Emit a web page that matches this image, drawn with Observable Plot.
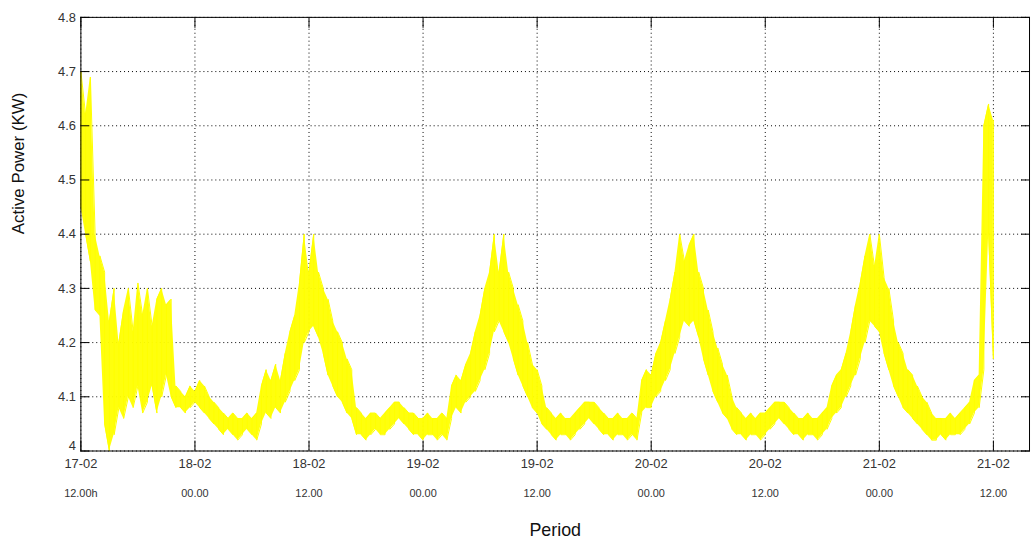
<!DOCTYPE html>
<html><head><meta charset="utf-8">
<script src="https://cdn.jsdelivr.net/npm/d3@7"></script>
<script src="https://cdn.jsdelivr.net/npm/@observablehq/plot@0.6"></script>
<style>
html,body{margin:0;padding:0;background:#fff;}
#wrap{width:1032px;height:554px;overflow:hidden;position:relative;background:#fff;}
</style></head><body><div id="wrap"></div>
<script>
// hours since 17-02 12:00, half-hour readings
const hours = [
  0,0.5,1,1.5,2,2.5,3,3.5,4,4.5,5,5.5,6,6.5,7,7.5,8,8.5,9,9.5,
  10,10.5,11,11.5,12,12.5,13,13.5,14,14.5,15,15.5,16,16.5,17,17.5,18,18.5,19,19.5,
  20,20.5,21,21.5,22,22.5,23,23.5,24,24.5,25,25.5,26,26.5,27,27.5,28,28.5,29,29.5,
  30,30.5,31,31.5,32,32.5,33,33.5,34,34.5,35,35.5,36,36.5,37,37.5,38,38.5,39,39.5,
  40,40.5,41,41.5,42,42.5,43,43.5,44,44.5,45,45.5,46,46.5,47,47.5,48,48.5,49,49.5,
  50,50.5,51,51.5,52,52.5,53,53.5,54,54.5,55,55.5,56,56.5,57,57.5,58,58.5,59,59.5,
  60,60.5,61,61.5,62,62.5,63,63.5,64,64.5,65,65.5,66,66.5,67,67.5,68,68.5,69,69.5,
  70,70.5,71,71.5,72,72.5,73,73.5,74,74.5,75,75.5,76,76.5,77,77.5,78,78.5,79,79.5,
  80,80.5,81,81.5,82,82.5,83,83.5,84,84.5,85,85.5,86,86.5,87,87.5,88,88.5,89,89.5,
  90,90.5,91,91.5,92,92.5,93,93.5,94,94.5,95,95.5,96];
// lower envelope of the active power trace (kW)
const lowValues = [
  4.45,4.40,4.35,4.26,4.25,4.05,4.00,4.03,4.08,4.06,4.10,4.08,4.12,4.07,4.09,4.12,4.07,4.10,4.14,4.10,
  4.08,4.08,4.07,4.08,4.09,4.08,4.07,4.06,4.05,4.04,4.03,4.04,4.03,4.02,4.03,4.04,4.03,4.02,4.05,4.07,
  4.06,4.08,4.07,4.09,4.11,4.13,4.15,4.20,4.22,4.23,4.21,4.18,4.14,4.12,4.10,4.09,4.07,4.06,4.03,4.03,
  4.02,4.03,4.04,4.03,4.03,4.04,4.05,4.06,4.05,4.04,4.03,4.03,4.02,4.03,4.03,4.02,4.03,4.02,4.06,4.08,
  4.07,4.09,4.10,4.11,4.13,4.15,4.18,4.22,4.24,4.22,4.20,4.17,4.14,4.12,4.10,4.08,4.07,4.05,4.04,4.03,
  4.02,4.03,4.03,4.02,4.03,4.04,4.05,4.06,4.05,4.04,4.03,4.03,4.02,4.03,4.03,4.02,4.03,4.02,4.07,4.08,
  4.08,4.10,4.11,4.13,4.15,4.18,4.21,4.24,4.23,4.24,4.21,4.17,4.14,4.11,4.09,4.07,4.06,4.04,4.03,4.03,
  4.02,4.03,4.03,4.02,4.03,4.04,4.05,4.06,4.05,4.04,4.03,4.03,4.02,4.03,4.03,4.02,4.03,4.04,4.06,4.07,
  4.08,4.10,4.12,4.14,4.17,4.20,4.24,4.23,4.22,4.18,4.15,4.12,4.10,4.08,4.07,4.06,4.05,4.04,4.03,4.02,
  4.02,4.03,4.02,4.03,4.03,4.03,4.04,4.05,4.07,4.08,4.15,4.40,4.17];
// upper envelope of the active power trace (kW)
const highValues = [
  4.70,4.62,4.69,4.40,4.36,4.33,4.24,4.30,4.20,4.26,4.30,4.22,4.31,4.25,4.30,4.23,4.28,4.30,4.27,4.28,
  4.12,4.11,4.10,4.12,4.11,4.13,4.12,4.10,4.09,4.08,4.07,4.06,4.07,4.06,4.06,4.07,4.06,4.07,4.12,4.15,
  4.13,4.16,4.13,4.18,4.22,4.25,4.31,4.40,4.33,4.40,4.33,4.30,4.28,4.24,4.22,4.20,4.17,4.15,4.08,4.07,
  4.06,4.07,4.07,4.06,4.07,4.08,4.09,4.09,4.08,4.07,4.07,4.06,4.06,4.07,4.06,4.06,4.07,4.06,4.12,4.14,
  4.13,4.16,4.18,4.22,4.25,4.30,4.33,4.40,4.33,4.40,4.33,4.30,4.27,4.24,4.20,4.16,4.15,4.12,4.08,4.07,
  4.06,4.07,4.06,4.06,4.07,4.08,4.09,4.09,4.09,4.08,4.07,4.06,4.06,4.07,4.06,4.06,4.07,4.06,4.13,4.15,
  4.14,4.18,4.20,4.24,4.28,4.33,4.40,4.35,4.38,4.40,4.33,4.30,4.26,4.22,4.19,4.16,4.14,4.10,4.08,4.07,
  4.06,4.07,4.06,4.07,4.07,4.08,4.09,4.09,4.09,4.08,4.07,4.06,4.06,4.07,4.06,4.06,4.07,4.08,4.12,4.14,
  4.15,4.18,4.22,4.27,4.31,4.36,4.40,4.34,4.40,4.32,4.30,4.24,4.20,4.18,4.15,4.14,4.12,4.10,4.09,4.07,
  4.06,4.06,4.06,4.07,4.06,4.07,4.08,4.09,4.13,4.14,4.60,4.64,4.61];

const tickHours = [0,12,24,36,48,60,72,84,96];
const dayLabels = ["17-02","18-02","18-02","19-02","19-02","20-02","20-02","21-02","21-02"];
const timeLabels = ["12.00h","00.00","12.00","00.00","12.00","00.00","12.00","00.00","12.00"];
const yTicks = [4,4.1,4.2,4.3,4.4,4.5,4.6,4.7,4.8];
const yTickLabels = ["4","4.1","4.2","4.3","4.4","4.5","4.6","4.7","4.8"];
const xDomain = [0, 99.8];
const yDomain = [4, 4.8];
const xTitle = "Period";
const yTitle = "Active Power (KW)";

const band = hours.map((t, i) => ({t, lo: lowValues[i], hi: highValues[i]}));
const zig = [];
hours.forEach((t, i) => {
  if (i % 2 === 0) { zig.push({t, v: lowValues[i]}); zig.push({t, v: highValues[i]}); }
  else { zig.push({t, v: highValues[i]}); zig.push({t, v: lowValues[i]}); }
});

const YEL = "#ffff00";
const dotted = {stroke: "#000", strokeOpacity: 1, strokeWidth: 1, strokeDasharray: "1,3"};
const yLab = d => yTickLabels[yTicks.indexOf(d)];

const chart = Plot.plot({
  width: 1040, height: 554,
  marginTop: 17, marginBottom: 100, marginLeft: 81, marginRight: 3,
  style: {fontFamily: "'Liberation Sans', Arial, sans-serif", color: "#222", background: "white", overflow: "visible"},
  x: {type: "linear", domain: xDomain},
  y: {type: "linear", domain: yDomain},
  marks: [
    Plot.gridX(tickHours, dotted),
    Plot.gridY(yTicks, dotted),
    Plot.areaY(band, {x: "t", y1: "lo", y2: "hi", fill: YEL, fillOpacity: 0.95}),
    Plot.line(zig, {x: "t", y: "v", stroke: YEL, strokeWidth: 1}),
    Plot.frame({stroke: "#000", strokeWidth: 1}),
    Plot.axisY(yTicks, {anchor: "left", tickSize: -9, fill: "none", stroke: "#000", label: null}),
    Plot.axisY(yTicks, {anchor: "right", tickSize: -9, fill: "none", stroke: "#000", label: null}),
    Plot.axisX(tickHours, {anchor: "bottom", tickSize: -10, fill: "none", stroke: "#000", label: null}),
    Plot.axisX(tickHours, {anchor: "top", tickSize: -10, fill: "none", stroke: "#000", label: null}),
    Plot.axisY(yTicks.filter(d => d > yDomain[0]), {anchor: "left", tickSize: 0, tickPadding: 5, fontSize: 13, fill: "#333",
      tickFormat: yLab, label: null}),
    Plot.axisY([yDomain[0]], {anchor: "left", tickSize: 0, tickPadding: 5, fontSize: 13, fill: "#333",
      tickFormat: yLab, dy: -5, label: null}),
    Plot.axisX(tickHours, {anchor: "bottom", tickSize: 0, tickPadding: 8, fontSize: 13, fill: "#333",
      tickFormat: d => dayLabels[tickHours.indexOf(d)], label: null}),
    Plot.axisX(tickHours, {anchor: "bottom", tickSize: 0, tickPadding: 39, fontSize: 11, fill: "#333",
      tickFormat: d => timeLabels[tickHours.indexOf(d)], label: null}),
    Plot.text([yTitle], {frameAnchor: "left", rotate: -90, dx: -63, fontSize: 17, fill: "#111"}),
    Plot.text([xTitle], {frameAnchor: "bottom", dy: 86, fontSize: 18, fill: "#111"})
  ]
});
document.getElementById("wrap").appendChild(chart);
</script>
</body></html>
